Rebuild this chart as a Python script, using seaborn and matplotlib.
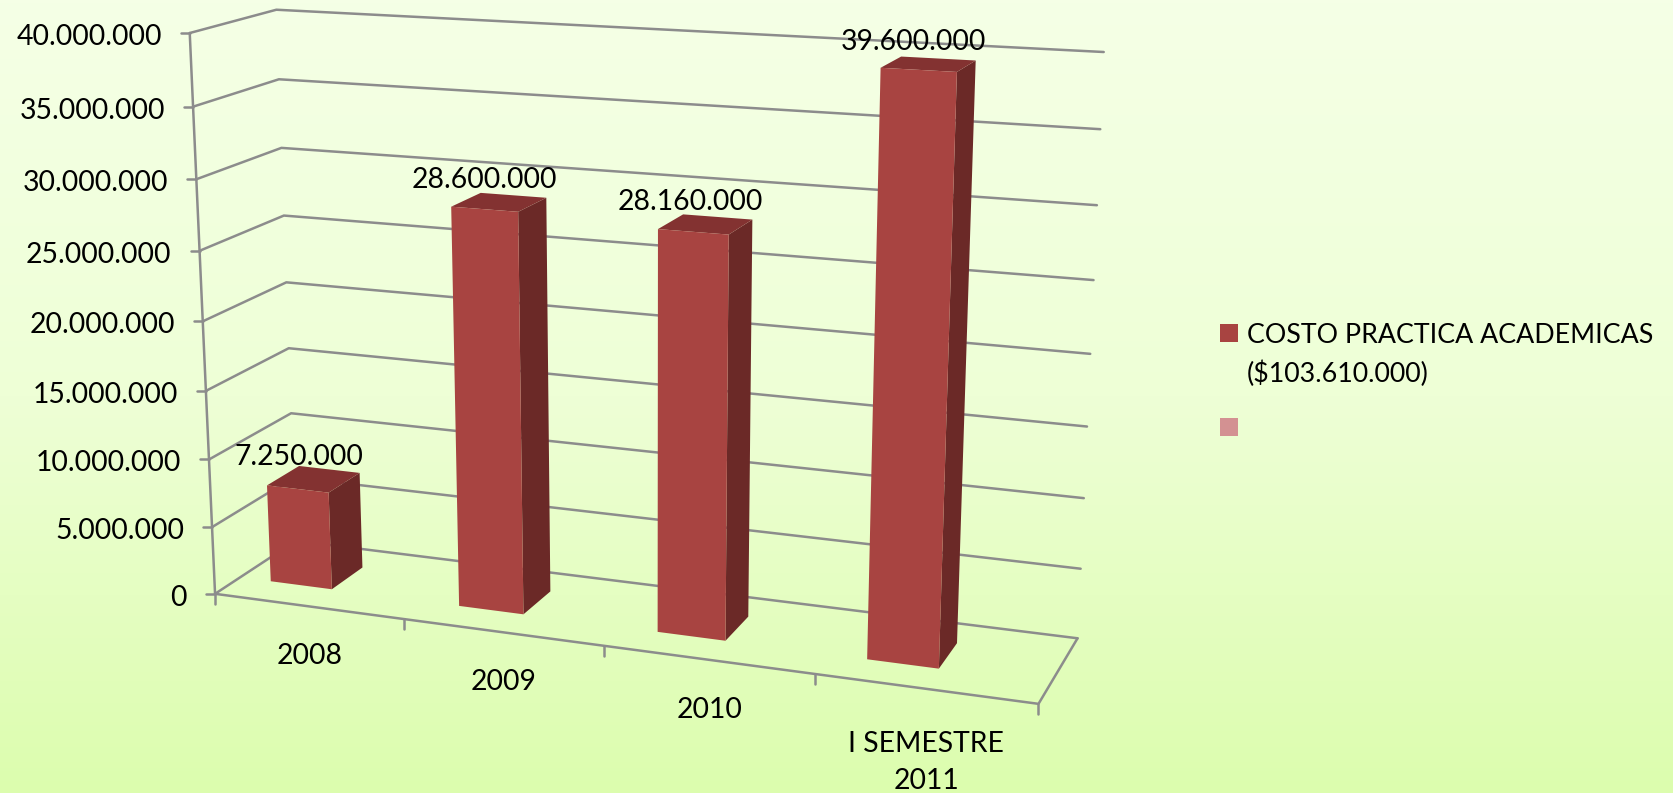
import numpy as np
import pandas as pd
import seaborn as sns
import matplotlib
matplotlib.use("Agg")
import matplotlib.pyplot as plt
from matplotlib.colors import LinearSegmentedColormap
from matplotlib.patches import Rectangle
from matplotlib.transforms import Transform

# ---- data ----
categories = ["2008", "2009", "2010", "I SEMESTRE\n2011"]
costs = [7250000, 28600000, 28160000, 39600000]
value_labels = ["7.250.000", "28.600.000", "28.160.000", "39.600.000"]
y_ticks = [0, 5000000, 10000000, 15000000, 20000000, 25000000, 30000000, 35000000, 40000000]
y_tick_labels = ["0", "5.000.000", "10.000.000", "15.000.000", "20.000.000",
                 "25.000.000", "30.000.000", "35.000.000", "40.000.000"]
legend_labels = ["COSTO PRACTICA ACADEMICAS\n($103.610.000)", ""]

# ---- style ----
W, H = 1674, 793
FRONT, TOP, SIDE, PINK = "#A84441", "#833231", "#6B2927", "#D39192"
GRID = "#8C8C8C"
FONT = "Lato"
FS = 20.4
LEGEND_FS = 19.3
Y_MAX = 40000000.0
BAR_OFFSET, BAR_WIDTH = 0.332, 0.33
Z0, Z1 = 0.30, 0.70

# Camera of the 3-D box: (category pos, value share, depth) -> picture position
calib = [
    ((0, 0, 0), (215, 595)), ((4, 0, 0), (1038, 704)), ((4, 0, 1), (1077, 638)),
    ((0, 0, 1), (296, 540)), ((0, 1, 0), (190, 33)), ((0, 1, 1), (276, 10)),
    ((4, 1, 1), (1103, 52)), ((0, .5, 0), (203, 320)), ((0, .5, 1), (286, 283)),
    ((4, .5, 1), (1092, 354)),
]
rows = []
for (a, b, c), (u, v) in calib:
    rows.append([a, b, c, 1, 0, 0, 0, 0, -u * a, -u * b, -u * c, -u])
    rows.append([0, 0, 0, 0, a, b, c, 1, -v * a, -v * b, -v * c, -v])
CAM = np.linalg.svd(np.array(rows, float))[2][-1].reshape(3, 4)


def project(x, value, z):
    x, value, z = np.broadcast_arrays(np.asarray(x, float), np.asarray(value, float), np.asarray(z, float))
    p = np.stack([x, value / Y_MAX, z, np.ones_like(x)], axis=-1) @ CAM.T
    return p[..., :2] / p[..., 2:]


class BarFace(Transform):
    """Sends a seaborn bar (category, value) on to its place in the 3-D box."""
    input_dims = output_dims = 2
    is_separable = False
    has_inverse = False

    def transform_non_affine(self, values):
        values = np.asarray(values, float)
        return project(values[:, 0] + BAR_OFFSET, values[:, 1], Z0)


sns.set_theme(style="white")
plt.rcParams["font.family"] = [FONT, "DejaVu Sans"]

fig = plt.figure(figsize=(W / 100, H / 100), dpi=100)
ax = fig.add_axes([0, 0, 1, 1])

# front faces, by seaborn
df = pd.DataFrame({"periodo": categories, "costo": costs})
sns.barplot(data=df, x="periodo", y="costo", order=categories, color=FRONT, saturation=1,
            width=BAR_WIDTH, errorbar=None, ax=ax, linewidth=0)
for patch in ax.patches:
    patch.set_transform(BarFace() + ax.transData)
    patch.set_zorder(5)

# background gradient
cmap = LinearSegmentedColormap.from_list("bg", ["#F5FFE6", "#EEFFD6", "#DCFDAE"])
ax.imshow(np.linspace(0, 1, 256)[:, None], cmap=cmap, extent=(0, W, H, 0), aspect="auto", zorder=0)


def seg(points, **kw):
    pts = np.array(points)
    ax.plot(pts[:, 0], pts[:, 1], color=GRID, lw=1.8, zorder=2, solid_capstyle="round", **kw)


# walls, floor, axes
for v, lab in zip(y_ticks, y_tick_labels):
    a, b, c = project(0, v, 0), project(0, v, 1), project(4, v, 1)
    seg([a, b, c])
    seg([a - [9, 0], a])
    ax.text(a[0] - 28, a[1] + 4, lab, ha="right", va="center", fontsize=FS, color="black")
seg([project(0, 0, 0), project(0, Y_MAX, 0)])
seg([project(0, 0, 0), project(4, 0, 0), project(4, 0, 1)])
for i in range(5):
    p = project(i, 0, 0)
    seg([p, p + [0, 10]])
for i, lab in enumerate(categories):
    p = project(i + 0.5, 0, 0)
    extra = 5 if "\n" in lab else 0
    ax.text(p[0] + 1, p[1] + 37 + extra, lab, ha="center", va="top", fontsize=FS, color="black", linespacing=1.55)

# side and top faces, data labels
for i, (v, lab) in enumerate(zip(costs, value_labels)):
    x0, x1 = i + BAR_OFFSET - BAR_WIDTH / 2, i + BAR_OFFSET + BAR_WIDTH / 2
    ax.fill(*np.array([project(x1, 0, Z0), project(x1, v, Z0), project(x1, v, Z1), project(x1, 0, Z1)]).T,
            color=SIDE, lw=0, zorder=4)
    ax.fill(*np.array([project(x0, v, Z0), project(x1, v, Z0), project(x1, v, Z1), project(x0, v, Z1)]).T,
            color=TOP, lw=0, zorder=4)
    c = project(i + BAR_OFFSET, v, 0.5)
    ax.text(c[0] - 15, c[1] - 22, lab, ha="center", va="center", fontsize=FS, color="black", zorder=6)

# legend
ax.add_patch(Rectangle((1220, 324), 18, 18, color=FRONT, lw=0, zorder=3))
ax.add_patch(Rectangle((1220, 418), 18, 18, color=PINK, lw=0, zorder=3))
ax.text(1247, 323, legend_labels[0], ha="left", va="top", fontsize=LEGEND_FS, color="black", linespacing=1.57)

ax.set_xlim(0, W)
ax.set_ylim(H, 0)
ax.axis("off")
fig.savefig("out.png", dpi=100)
